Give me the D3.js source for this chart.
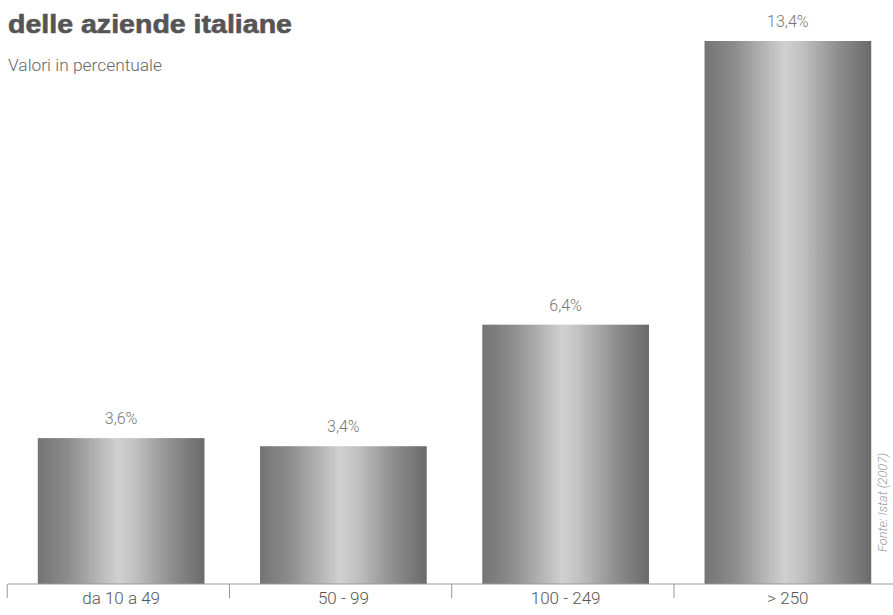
<!DOCTYPE html>
<html>
<head>
<meta charset="utf-8">
<script src="https://cdn.jsdelivr.net/npm/d3@7"></script>
<style>
  body { margin: 0; background: #fff; }
  svg { display: block; }
</style>
</head>
<body>
<svg id="chart" width="893" height="615"></svg>
<script>
// data
const categories = ["da 10 a 49", "50 - 99", "100 - 249", "> 250"];
const values = [3.6, 3.4, 6.4, 13.4];
const valueLabels = ["3,6%", "3,4%", "6,4%", "13,4%"];

const width = 893;
const height = 615;
const baseY = 584;
const narrow = "Roboto, 'Liberation Sans', Arial, sans-serif";

const svg = d3.select("#chart");

// bar shading: dark edges, light middle
const grad = svg.append("defs").append("linearGradient")
  .attr("id", "barGrad")
  .attr("x1", "0%").attr("x2", "100%").attr("y1", "0%").attr("y2", "0%");
[[0, "#747474"], [0.18, "#8c8c8c"], [0.48, "#d0d0d0"], [0.58, "#c2c2c2"], [0.8, "#8e8e8e"], [1, "#6a6a6a"]]
  .forEach(([o, c]) => grad.append("stop").attr("offset", o).attr("stop-color", c));

const x = d3.scaleBand()
  .domain(categories)
  .range([10, 899])
  .paddingInner(0.25)
  .paddingOuter(0.125);

const y = d3.scaleLinear()
  .domain([0, 13.4])
  .range([baseY, 41]);

// title (top line cut off in the original)
svg.append("text")
  .attr("x", 8).attr("y", 33)
  .attr("font-family", "'Liberation Sans', Arial, sans-serif")
  .attr("font-weight", "bold")
  .attr("font-size", 25)
  .attr("textLength", 284)
  .attr("lengthAdjust", "spacingAndGlyphs")
  .attr("fill", "#555")
  .style("stroke", "#555").style("stroke-width", 0.6)
  .text("delle aziende italiane");

svg.append("text")
  .attr("x", 8).attr("y", 71)
  .attr("font-family", narrow)
  .attr("font-weight", 300)
  .attr("font-size", 16)
  .attr("textLength", 154)
  .attr("lengthAdjust", "spacingAndGlyphs")
  .attr("fill", "#666")
  .text("Valori in percentuale");

// bars
svg.selectAll(".bar")
  .data(values)
  .join("rect")
  .attr("class", "bar")
  .attr("x", (d, i) => x(categories[i]))
  .attr("y", d => y(d))
  .attr("width", x.bandwidth())
  .attr("height", d => baseY - y(d))
  .attr("fill", "url(#barGrad)");

// value labels
svg.selectAll(".val")
  .data(values)
  .join("text")
  .attr("class", "val")
  .attr("x", (d, i) => x(categories[i]) + x.bandwidth() / 2)
  .attr("y", d => y(d) - 14)
  .attr("text-anchor", "middle")
  .attr("font-family", narrow)
  .attr("font-weight", 300)
  .attr("font-size", 16)
  .attr("fill", "#777")
  .text((d, i) => valueLabels[i]);

// x axis
const xAxis = d3.axisBottom(x).tickSize(0).tickPadding(8);
const gx = svg.append("g")
  .attr("transform", `translate(0,${baseY})`)
  .call(xAxis);
gx.select(".domain").remove();
gx.selectAll("text")
  .attr("font-family", narrow)
  .attr("font-weight", 300)
  .attr("font-size", 17)
  .attr("fill", "#555");

gx.append("line")
  .attr("x1", 8).attr("x2", width)
  .attr("stroke", "#999").attr("stroke-width", 1);

// separators between categories
gx.selectAll(".sep")
  .data(categories)
  .join("line")
  .attr("class", "sep")
  .attr("x1", d => x(d) - x.step() * x.paddingInner() / 2 * 1.1)
  .attr("x2", d => x(d) - x.step() * x.paddingInner() / 2 * 1.1)
  .attr("y1", 0).attr("y2", 14)
  .attr("stroke", "#999");

// source
svg.append("text")
  .attr("transform", "translate(887,552) rotate(-90)")
  .attr("font-family", narrow)
  .attr("font-style", "italic")
  .attr("font-weight", 300)
  .attr("font-size", 12)
  .attr("textLength", 99)
  .attr("lengthAdjust", "spacingAndGlyphs")
  .attr("fill", "#999")
  .text("Fonte: Istat (2007)");
</script>
</body>
</html>
